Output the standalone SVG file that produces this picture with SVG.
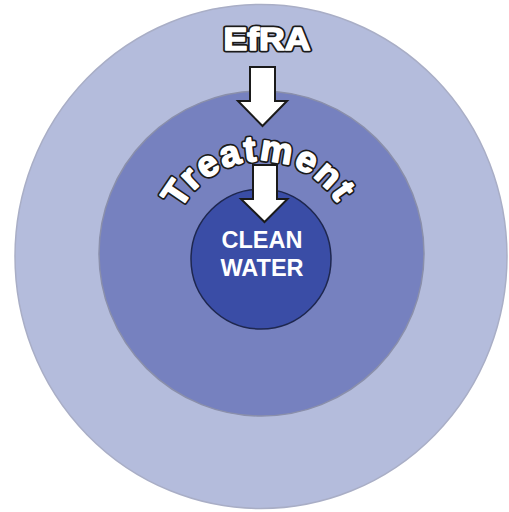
<svg xmlns="http://www.w3.org/2000/svg" width="509" height="512" viewBox="0 0 509 512">
  <style>
    .ring-outer { fill: #b4bcdc; stroke: #a9aec6; stroke-width: 1.5; }
    .ring-mid { fill: #7681bf; stroke: #8a8fab; stroke-width: 1.5; }
    .core { fill: #3a4da6; stroke: #1e274f; stroke-width: 1.5; }
    .arrow { fill: #ffffff; stroke: #1a1a1a; stroke-width: 2; stroke-linejoin: miter; }
    .heavy { font-family: "Liberation Sans", Arial, sans-serif; font-weight: bold; stroke-linejoin: round; }
    /* dark outline layer underneath, white thickened face on top */
    .edge { fill: #1a1a1a; stroke: #1a1a1a; stroke-width: 5; }
    .face { fill: #ffffff; stroke: #ffffff; stroke-width: 1.6; }
    .core-label { font-family: "Liberation Sans", Arial, sans-serif; font-weight: bold; fill: #ffffff; font-size: 23.5px; text-anchor: middle; }
  </style>
  <defs>
    <!-- baseline arc: centre (261,251), radius 90, from -100deg to +100deg -->
    <path id="treatmentArc" d="M172.4,266.6 A90,90 0 1 1 349.6,266.6"/>
  </defs>

  <rect width="509" height="512" fill="#ffffff"/>

  <g id="efra-ring">
    <ellipse class="ring-outer" cx="261" cy="256.5" rx="246" ry="252"/>
    <text class="heavy edge" x="267" y="49.5" font-size="32" text-anchor="middle" textLength="87" lengthAdjust="spacingAndGlyphs">EfRA</text>
    <text class="heavy face" x="267" y="49.5" font-size="32" text-anchor="middle" textLength="87" lengthAdjust="spacingAndGlyphs">EfRA</text>
  </g>

  <g id="treatment-ring">
    <circle class="ring-mid" cx="261.5" cy="253.5" r="162.5"/>
    <text class="heavy edge" font-size="36" letter-spacing="2.1">
      <textPath href="#treatmentArc" startOffset="58.5">Treatment</textPath>
    </text>
    <text class="heavy face" font-size="36" letter-spacing="2.1">
      <textPath href="#treatmentArc" startOffset="58.5">Treatment</textPath>
    </text>
  </g>

  <g id="clean-water">
    <circle class="core" cx="261" cy="259" r="70"/>
    <text class="core-label" x="262" y="248">CLEAN</text>
    <text class="core-label" x="262" y="276">WATER</text>
  </g>

  <g id="connectors">
    <polygon class="arrow" points="250,67 275,67 275,101 287,101 262.5,126 238,101 250,101"/>
    <polygon class="arrow" points="253,165 277,165 277,199 287.5,199 264.5,222 241,199 253,199"/>
  </g>
</svg>
